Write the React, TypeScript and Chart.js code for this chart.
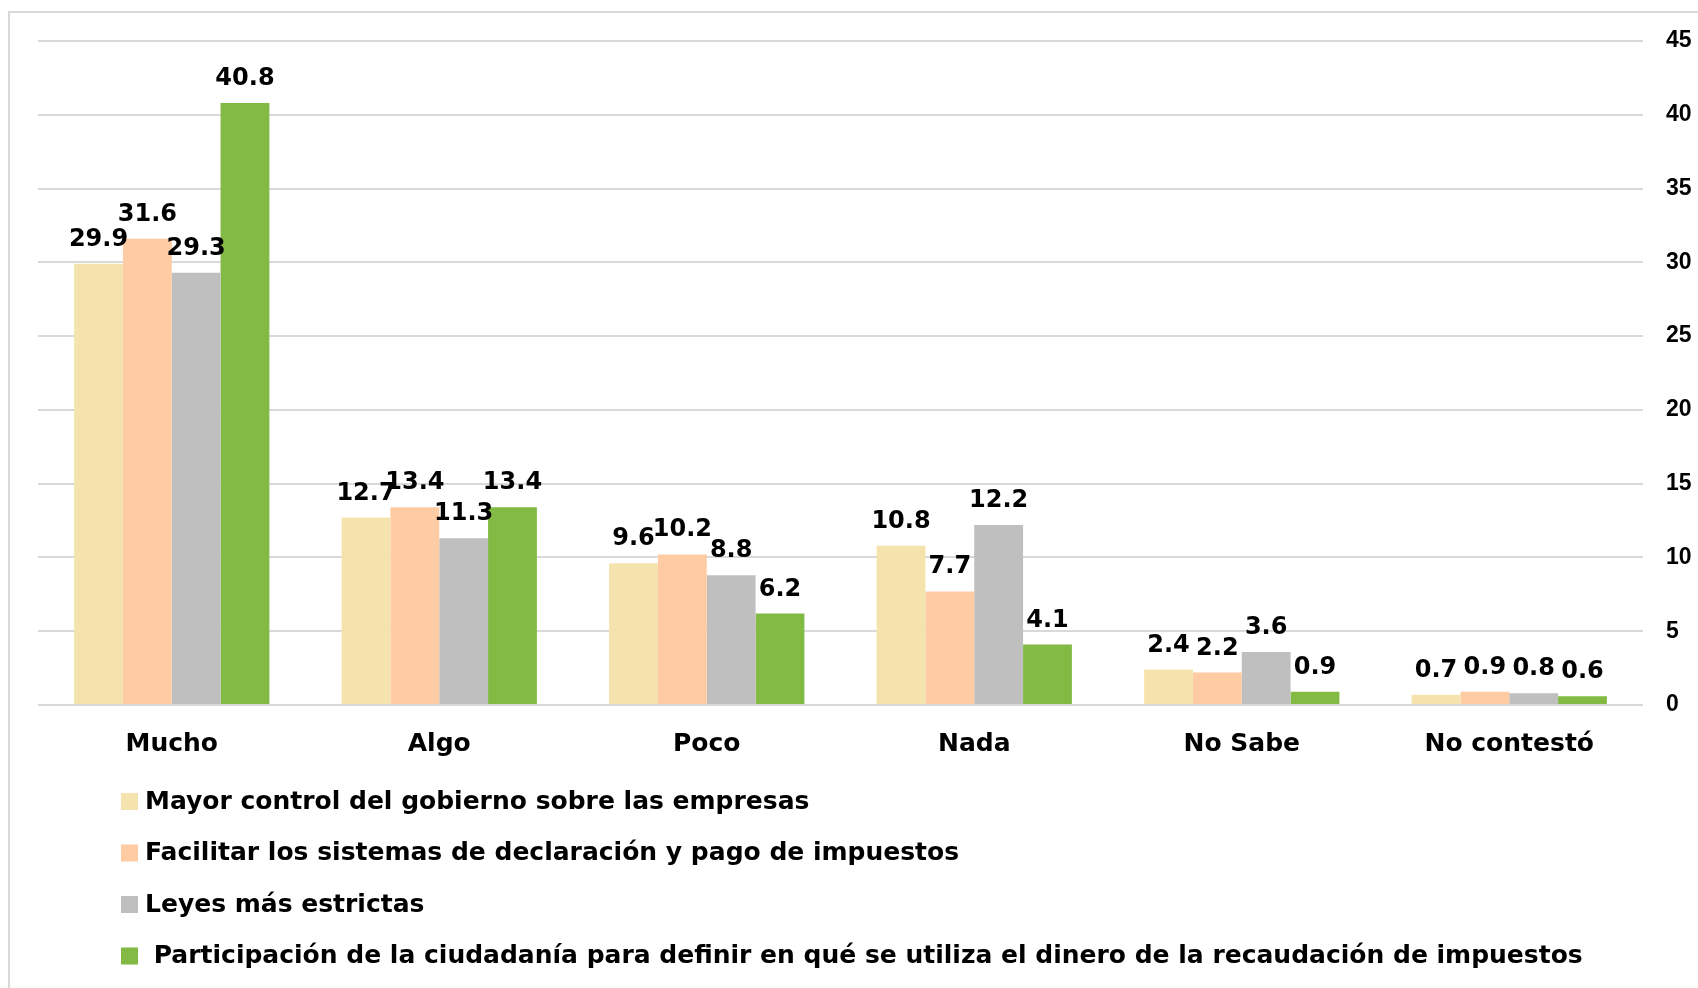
import React, { useEffect, useRef } from "react";
import { Chart, registerables } from "chart.js";

Chart.register(...registerables);

const categories = ["Mucho", "Algo", "Poco", "Nada", "No Sabe", "No contestó"];
const seriesNames = [
  "Mayor control del gobierno sobre las empresas",
  "Facilitar los sistemas de declaración y pago de impuestos",
  "Leyes más estrictas",
  " Participación de la ciudadanía para definir en qué se utiliza el dinero de la recaudación de impuestos",
];
const controlValues = [29.9, 12.7, 9.6, 10.8, 2.4, 0.7];
const facilitarValues = [31.6, 13.4, 10.2, 7.7, 2.2, 0.9];
const leyesValues = [29.3, 11.3, 8.8, 12.2, 3.6, 0.8];
const participacionValues = [40.8, 13.4, 6.2, 4.1, 0.9, 0.6];
const seriesColors = ["#F5E3AE", "#FFCBA3", "#BFBFBF", "#82BA43"];
const yTicks = [0, 5, 10, 15, 20, 25, 30, 35, 40, 45];

const FONT = "'Century Gothic', 'DejaVu Sans', sans-serif";

const labelPlugin = {
  id: "barLabels",
  afterDatasetsDraw(chart: any) {
    const ctx = chart.ctx;
    ctx.save();
    ctx.font = `bold 24px ${FONT}`;
    ctx.fillStyle = "#000";
    ctx.textAlign = "center";
    ctx.textBaseline = "alphabetic";
    chart.data.datasets.forEach((ds: any, i: number) => {
      const meta = chart.getDatasetMeta(i);
      meta.data.forEach((bar: any, j: number) => {
        const v = ds.data[j];
        ctx.fillText(v.toFixed(1), bar.x, bar.y - 18);
      });
    });
    ctx.restore();
  },
};

const legendPlugin = {
  id: "vertLegend",
  afterDraw(chart: any) {
    const ctx = chart.ctx;
    const base = chart.scales.x.bottom;
    ctx.save();
    ctx.font = `bold 25px ${FONT}`;
    ctx.textAlign = "left";
    ctx.textBaseline = "middle";
    chart.data.datasets.forEach((ds: any, i: number) => {
      const cy = base + 43 + i * 51.5;
      ctx.fillStyle = ds.backgroundColor;
      ctx.fillRect(121, cy - 8, 17, 17);
      ctx.fillStyle = "#000";
      ctx.fillText(ds.label, 145, cy + 1);
    });
    ctx.restore();
  },
};

export default function App() {
  const ref = useRef<HTMLCanvasElement | null>(null);
  useEffect(() => {
    if (!ref.current) return;
    const data = [controlValues, facilitarValues, leyesValues, participacionValues];
    const chart = new Chart(ref.current, {
      type: "bar",
      data: {
        labels: categories,
        datasets: data.map((d, i) => ({
          label: seriesNames[i],
          data: d,
          backgroundColor: seriesColors[i],
          borderWidth: 0,
          categoryPercentage: 0.73,
          barPercentage: 1.0,
        })),
      },
      options: {
        animation: false,
        responsive: false,
        maintainAspectRatio: false,
        layout: { padding: { left: 38, top: 41, right: 5, bottom: 230 } },
        plugins: {
          legend: { display: false },
          tooltip: { enabled: false },
        },
        scales: {
          x: {
            grid: { display: false, drawTicks: false },
            border: { display: false },
            afterFit: (axis: any) => {
              axis.height = 53;
            },
            ticks: {
              padding: 24,
              color: "#000",
              font: { family: FONT, size: 25, weight: "bold" },
            },
          },
          y: {
            position: "right",
            min: 0,
            max: 45,
            afterBuildTicks: (axis: any) => {
              axis.ticks = yTicks.map((v) => ({ value: v }));
            },
            afterFit: (axis: any) => {
              axis.width = 50;
            },
            grid: { color: "#D9D9D9", lineWidth: 2, drawTicks: false },
            border: { display: false },
            ticks: {
              padding: 23,
              color: "#000",
              font: { family: "'Liberation Sans', Arial, sans-serif", size: 23, weight: "bold" },
            },
          },
        },
      },
      plugins: [labelPlugin, legendPlugin],
    });
    return () => chart.destroy();
  }, []);

  return (
    <div style={{ position: "fixed", left: 0, top: 0, width: 1698, height: 988, overflow: "hidden", background: "#fff" }}>
      <div
        style={{
          position: "absolute",
          left: 8,
          top: 11,
          width: 1800,
          height: 1100,
          border: "2px solid #D9D9D9",
          boxSizing: "border-box",
        }}
      />
      <canvas ref={ref} width={1698} height={988} style={{ position: "absolute", left: 0, top: 0, width: 1698, height: 988 }} />
    </div>
  );
}
